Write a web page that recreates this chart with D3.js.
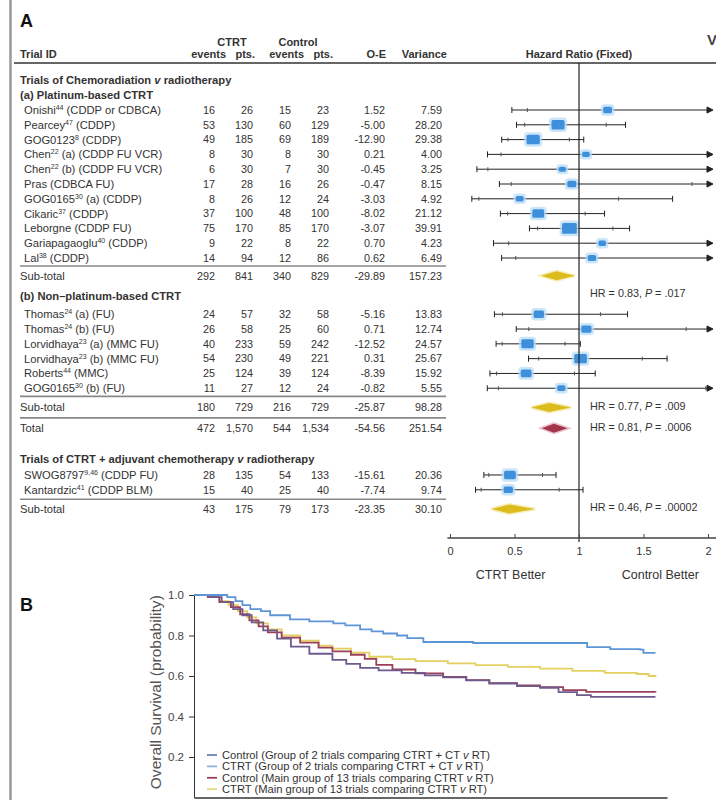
<!DOCTYPE html>
<html>
<head>
<meta charset="utf-8">
<script src="https://cdn.jsdelivr.net/npm/d3@7"></script>
<style>
  body { margin: 0; background: #fff; }
  svg { display: block; font-family: "Liberation Sans", Arial, sans-serif; }
</style>
</head>
<body>
<svg id="chart" width="716" height="800"></svg>
<script>
// ---- panel A data ----
var platinumNames = ['Onishi', 'Pearcey', 'GOG0123', 'Chen', 'Chen', 'Pras', 'GOG0165', 'Cikaric', 'Leborgne', 'Gariapagaoglu', 'Lal'];
var platinumRefs = ['44', '47', '8', '22', '22', '', '30', '37', '', '40', '38'];
var platinumRegimens = [' (CDDP or CDBCA)', ' (CDDP)', ' (CDDP)', ' (a) (CDDP FU VCR)', ' (b) (CDDP FU VCR)', ' (CDBCA FU)', ' (a) (CDDP)', ' (CDDP)', ' (CDDP FU)', ' (CDDP)', ' (CDDP)'];
var platinumCtrtEvents = [16, 53, 49, 8, 6, 17, 8, 37, 75, 9, 14];
var platinumCtrtPts = [26, 130, 185, 30, 30, 28, 26, 100, 170, 22, 94];
var platinumCtrlEvents = [15, 60, 69, 8, 7, 16, 12, 48, 85, 8, 12];
var platinumCtrlPts = [23, 129, 189, 30, 30, 26, 24, 100, 170, 22, 86];
var platinumOE = [1.52, -5.00, -12.90, 0.21, -0.45, -0.47, -3.03, -8.02, -3.07, 0.70, 0.62];
var platinumVar = [7.59, 28.20, 29.38, 4.00, 3.25, 8.15, 4.92, 21.12, 39.91, 4.23, 6.49];

var nonPlatNames = ['Thomas', 'Thomas', 'Lorvidhaya', 'Lorvidhaya', 'Roberts', 'GOG0165'];
var nonPlatRefs = ['24', '24', '23', '23', '44', '30'];
var nonPlatRegimens = [' (a) (FU)', ' (b) (FU)', ' (a) (MMC FU)', ' (b) (MMC FU)', ' (MMC)', ' (b) (FU)'];
var nonPlatCtrtEvents = [24, 26, 40, 54, 25, 11];
var nonPlatCtrtPts = [57, 58, 233, 230, 124, 27];
var nonPlatCtrlEvents = [32, 25, 59, 49, 39, 12];
var nonPlatCtrlPts = [58, 60, 242, 221, 124, 24];
var nonPlatOE = [-5.16, 0.71, -12.52, 0.31, -8.39, -0.82];
var nonPlatVar = [13.83, 12.74, 24.57, 25.67, 15.92, 5.55];

var adjNames = ['SWOG8797', 'Kantardzic'];
var adjRefs = ['9,46', '41'];
var adjRegimens = [' (CDDP FU)', ' (CDDP BLM)'];
var adjCtrtEvents = [28, 15];
var adjCtrtPts = [135, 40];
var adjCtrlEvents = [54, 25];
var adjCtrlPts = [133, 40];
var adjOE = [-15.61, -7.74];
var adjVar = [20.36, 9.74];

// sub-totals: ctrt events, ctrt pts, control events, control pts, O-E, variance
var subtotalPlatinum = [292, 841, 340, 829, -29.89, 157.23];
var subtotalNonPlat = [180, 729, 216, 729, -25.87, 98.28];
var totalChemorad = [472, 1570, 544, 1534, -54.56, 251.54];
var subtotalAdj = [43, 175, 79, 173, -23.35, 30.10];
var hrLabels = ['HR = 0.83, ', 'HR = 0.77, ', 'HR = 0.81, ', 'HR = 0.46, '];
var pLabels = [' = .017', ' = .009', ' = .0006', ' = .00002'];
var hrTicks = [0, 0.5, 1, 1.5, 2];

// ---- panel B data ----
var ctrtGrp2Time = [0, 0.72, 0.9, 1.05, 1.22, 1.45, 1.65, 2.08, 2.5, 3.02, 3.28, 3.6, 3.85, 4.1, 4.4, 4.62, 4.97, 6.05, 8.44, 8.52, 9.02, 9.67, 9.74, 10];
var ctrtGrp2Surv = [1, 0.99, 0.97, 0.95, 0.93, 0.92, 0.9, 0.88, 0.87, 0.86, 0.85, 0.83, 0.82, 0.81, 0.8, 0.787, 0.768, 0.763, 0.763, 0.743, 0.733, 0.73, 0.714, 0.714];
var ctrlGrp2Time = [0, 0.35, 0.6, 0.85, 1.05, 1.25, 1.5, 1.8, 2.1, 2.5, 3.0, 3.3, 3.6, 4.0, 4.5, 5.0, 5.4, 5.9, 6.4, 7.0, 7.5, 7.9, 8.3, 8.6, 10];
var ctrlGrp2Surv = [1, 0.99, 0.965, 0.93, 0.9, 0.865, 0.825, 0.785, 0.745, 0.71, 0.68, 0.66, 0.64, 0.628, 0.615, 0.603, 0.593, 0.578, 0.563, 0.55, 0.542, 0.52, 0.506, 0.497, 0.497];
var ctrlMainTime = [0, 0.3, 0.55, 0.8, 1.0, 1.2, 1.4, 1.6, 1.9, 2.3, 2.7, 3.0, 3.4, 3.7, 3.95, 4.3, 4.8, 5.4, 5.9, 6.4, 7.0, 7.5, 8.0, 8.5, 10];
var ctrlMainSurv = [1, 0.99, 0.965, 0.94, 0.905, 0.875, 0.845, 0.815, 0.79, 0.765, 0.74, 0.722, 0.705, 0.685, 0.655, 0.632, 0.613, 0.595, 0.58, 0.565, 0.553, 0.545, 0.53, 0.522, 0.52];
var ctrtMainTime = [0, 0.3, 0.55, 0.75, 0.95, 1.15, 1.35, 1.6, 1.9, 2.3, 2.7, 3.0, 3.4, 3.8, 4.3, 4.8, 5.5, 6.1, 6.8, 7.5, 8.2, 8.9, 9.6, 9.85, 10];
var ctrtMainSurv = [1, 0.99, 0.97, 0.95, 0.92, 0.89, 0.86, 0.83, 0.8, 0.775, 0.75, 0.735, 0.715, 0.695, 0.683, 0.673, 0.662, 0.654, 0.645, 0.636, 0.625, 0.615, 0.61, 0.6, 0.595];
var legendLabels = [
  ['Control (Group of 2 trials comparing CTRT + CT ', ' RT)'],
  ['CTRT (Group of 2 trials comparing CTRT + CT ', ' RT)'],
  ['Control (Main group of 13 trials comparing CTRT ', ' RT)'],
  ['CTRT  (Main group of 13 trials comparing CTRT ', ' RT)']
];
var survTicks = [0.2, 0.4, 0.6, 0.8, 1.0];

// ---- helpers ----
function makeTrials(names, refs, regs, ce, cp, xe, xp, oe, v) {
  return names.map(function (n, i) {
    return { name: n, ref: refs[i], reg: regs[i], vals: [ce[i], cp[i], xe[i], xp[i], oe[i], v[i]] };
  });
}
var platinum = makeTrials(platinumNames, platinumRefs, platinumRegimens, platinumCtrtEvents, platinumCtrtPts, platinumCtrlEvents, platinumCtrlPts, platinumOE, platinumVar);
var nonPlat = makeTrials(nonPlatNames, nonPlatRefs, nonPlatRegimens, nonPlatCtrtEvents, nonPlatCtrtPts, nonPlatCtrlEvents, nonPlatCtrlPts, nonPlatOE, nonPlatVar);
var adjuvant = makeTrials(adjNames, adjRefs, adjRegimens, adjCtrtEvents, adjCtrtPts, adjCtrlEvents, adjCtrlPts, adjOE, adjVar);

var svg = d3.select('#chart');
var textCol = '#333';

// left frame line
svg.append('line').attr('x1', 10.5).attr('x2', 10.5).attr('y1', 0).attr('y2', 800)
  .attr('stroke', '#999').attr('stroke-width', 2.5);

// ============ PANEL A ============
var rowY = d3.scaleLinear().domain([0, 1]).range([110, 124.8]);
var hr = d3.scaleLinear().domain([0, 2]).range([450, 708]);
var colX = [215, 253, 291, 329, 385, 442];
var fmtInt = d3.format(',');

svg.append('text').attr('x', 20).attr('y', 27).attr('font-size', 18).attr('font-weight', 'bold')
  .attr('fill', '#111').text('A');
svg.append('text').attr('x', 707).attr('y', 45).attr('font-size', 15).attr('font-weight', 'bold')
  .attr('fill', '#444').text('V');

// header
var head = svg.append('g').attr('font-size', 11).attr('font-weight', 'bold').attr('fill', textCol);
head.append('text').attr('x', 232).attr('y', 46).attr('text-anchor', 'middle').text('CTRT');
head.append('text').attr('x', 298).attr('y', 46).attr('text-anchor', 'middle').text('Control');
head.append('text').attr('x', 20).attr('y', 58).text('Trial ID');
[['events', 226], ['pts.', 255], ['events', 304], ['pts.', 333], ['O-E', 386], ['Variance', 447]].forEach(function (h) {
  head.append('text').attr('x', h[1]).attr('y', 58).attr('text-anchor', 'end').text(h[0]);
});
head.append('text').attr('x', 579).attr('y', 58).attr('text-anchor', 'middle').text('Hazard Ratio (Fixed)');
svg.append('line').attr('x1', 14).attr('x2', 716).attr('y1', 63).attr('y2', 63)
  .attr('stroke', '#333').attr('stroke-width', 1.3);

var rows = svg.append('g').attr('fill', textCol);
var marks = svg.append('g');

function sectionTitle(y, before, after) {
  var t = rows.append('text').attr('x', 20).attr('y', y).attr('dy', '0.35em')
    .attr('font-size', 11.2).attr('font-weight', 'bold');
  t.append('tspan').text(before);
  if (after !== undefined) {
    t.append('tspan').attr('font-style', 'italic').text(' v ');
    t.append('tspan').text(after);
  }
}

function numbers(y, vals) {
  vals.forEach(function (v, i) {
    var s = i < 4 ? fmtInt(v) : v.toFixed(2);
    rows.append('text').attr('x', colX[i]).attr('y', y).attr('dy', '0.35em')
      .attr('text-anchor', 'end').attr('font-size', 10.8).text(s);
  });
}

function separator(y) {
  rows.append('line').attr('x1', 20).attr('x2', 446).attr('y1', y).attr('y2', y)
    .attr('stroke', '#888').attr('stroke-width', 1.6);
}

function trialRow(t, y) {
  var txt = rows.append('text').attr('x', 24).attr('y', y).attr('dy', '0.35em').attr('font-size', 11.2);
  txt.append('tspan').text(t.name);
  if (t.ref) {
    txt.append('tspan').attr('font-size', 7).attr('dy', -4).text(t.ref);
    txt.append('tspan').attr('dy', 4).text(t.reg);
  } else {
    txt.append('tspan').text(t.reg);
  }
  numbers(y, t.vals);

  var oe = t.vals[4], v = t.vals[5];
  var lnhr = oe / v, se = 1 / Math.sqrt(v);
  var lo99 = Math.exp(lnhr - 2.576 * se), hi99 = Math.exp(lnhr + 2.576 * se);
  var lo95 = Math.exp(lnhr - 1.96 * se), hi95 = Math.exp(lnhr + 1.96 * se);
  var x1 = hr(Math.max(lo99, 0)), x2 = hr(Math.min(hi99, 2)) + (hi99 > 2 ? 2 : 0);
  var g = marks.append('g').attr('stroke', '#222').attr('stroke-width', 1);
  g.append('line').attr('x1', x1).attr('x2', x2).attr('y1', y).attr('y2', y);
  g.append('line').attr('x1', x1).attr('x2', x1).attr('y1', y - 3).attr('y2', y + 3);
  if (hi99 > 2) {
    g.append('path').attr('d', 'M' + (x2 + 3) + ',' + y + 'L' + (x2 - 3) + ',' + (y - 3) + 'L' + (x2 - 3) + ',' + (y + 3) + 'Z')
      .attr('fill', '#222');
  } else {
    g.append('line').attr('x1', x2).attr('x2', x2).attr('y1', y - 3).attr('y2', y + 3);
  }
  [lo95, hi95].forEach(function (c) {
    if (c < 2) g.append('line').attr('x1', hr(c)).attr('x2', hr(c)).attr('y1', y - 2).attr('y2', y + 2).attr('stroke', '#555');
  });
  var w = 4 + 1.7 * Math.sqrt(v), h = w * 0.72;
  var cx = hr(Math.exp(lnhr));
  marks.append('rect').attr('x', cx - w / 2 - 2.5).attr('y', y - h / 2 - 2.5).attr('width', w + 5).attr('height', h + 5)
    .attr('rx', 3.5).attr('fill', '#b9dcf7').attr('opacity', 0.75);
  marks.append('rect').attr('x', cx - w / 2).attr('y', y - h / 2).attr('width', w).attr('height', h)
    .attr('rx', 1.5).attr('fill', '#3f90dc');
}

function diamond(vals, y, color, glow) {
  var oe = vals[4], v = vals[5];
  var lnhr = oe / v, se = 1 / Math.sqrt(v);
  var c = hr(Math.exp(lnhr)), l = hr(Math.exp(lnhr - 1.96 * se)), r = hr(Math.exp(lnhr + 1.96 * se));
  var d = 'M' + l + ',' + y + 'L' + c + ',' + (y - 4.5) + 'L' + r + ',' + y + 'L' + c + ',' + (y + 4.5) + 'Z';
  marks.append('path').attr('d', d).attr('fill', glow).attr('stroke', glow).attr('stroke-width', 3).attr('opacity', 0.6);
  marks.append('path').attr('d', d).attr('fill', color);
}

function hrText(i, y) {
  var t = rows.append('text').attr('x', 590).attr('y', y).attr('dy', '0.35em').attr('font-size', 10.8);
  t.append('tspan').text(hrLabels[i]);
  t.append('tspan').attr('font-style', 'italic').text('P');
  t.append('tspan').text(pLabels[i]);
}

function subRow(label, vals, y) {
  rows.append('text').attr('x', 20).attr('y', y).attr('dy', '0.35em').attr('font-size', 11.2).text(label);
  numbers(y, vals);
}

// layout walk (row units)
var s = -2.05;
sectionTitle(rowY(s), 'Trials of Chemoradiation', 'radiotherapy');
s += 1.05;
sectionTitle(rowY(s), '(a) Platinum-based CTRT');
s += 1;
platinum.forEach(function (t, i) { trialRow(t, rowY(s)); if (i < platinum.length - 1) s += 1; });
s += 1.2;
separator(rowY(s - 0.66));
subRow('Sub-total', subtotalPlatinum, rowY(s));
diamond(subtotalPlatinum, rowY(s), '#dcbc1c', '#f3e08a');
hrText(0, rowY(s + 1.15));
s += 1.4;
sectionTitle(rowY(s), '(b) Non\u2013platinum-based CTRT');
s += 1.2;
nonPlat.forEach(function (t, i) { trialRow(t, rowY(s)); if (i < nonPlat.length - 1) s += 1; });
s += 1.3;
separator(rowY(s - 0.75));
subRow('Sub-total', subtotalNonPlat, rowY(s));
diamond(subtotalNonPlat, rowY(s), '#dcbc1c', '#f3e08a');
hrText(1, rowY(s - 0.1));
s += 1.4;
separator(rowY(s - 0.7));
subRow('Total', totalChemorad, rowY(s));
diamond(totalChemorad, rowY(s), '#a3354d', '#dfa0b0');
hrText(2, rowY(s - 0.1));
s += 2.1;
sectionTitle(rowY(s), 'Trials of CTRT + adjuvant chemotherapy', 'radiotherapy');
s += 1.06;
adjuvant.forEach(function (t, i) { trialRow(t, rowY(s)); if (i < adjuvant.length - 1) s += 1; });
s += 1.3;
separator(rowY(s - 0.66));
subRow('Sub-total', subtotalAdj, rowY(s));
diamond(subtotalAdj, rowY(s), '#dcbc1c', '#f3e08a');
hrText(3, rowY(s - 0.1));

// reference line and axis
var axisY = 538;
svg.append('line').attr('x1', hr(1)).attr('x2', hr(1)).attr('y1', 63).attr('y2', axisY + 4)
  .attr('stroke', '#222').attr('stroke-width', 1.2);
svg.append('line').attr('x1', hr(-0.02)).attr('x2', 716).attr('y1', axisY).attr('y2', axisY)
  .attr('stroke', '#444').attr('stroke-width', 1.3);
var ax = svg.append('g').attr('transform', 'translate(0,' + axisY + ')')
  .call(d3.axisBottom(hr).tickValues(hrTicks).tickFormat(d3.format('~g')).tickSize(-4).tickPadding(9));
ax.select('.domain').remove();
ax.selectAll('text').attr('font-size', 11).attr('fill', textCol).attr('font-family', null);
ax.selectAll('line').attr('stroke', '#444');
svg.append('text').attr('x', hr(0.47)).attr('y', 579).attr('text-anchor', 'middle')
  .attr('font-size', 12.5).attr('fill', textCol).text('CTRT Better');
svg.append('text').attr('x', hr(1.63)).attr('y', 579).attr('text-anchor', 'middle')
  .attr('font-size', 12.5).attr('fill', textCol).text('Control Better');

// ============ PANEL B ============
svg.append('text').attr('x', 20).attr('y', 611).attr('font-size', 18).attr('font-weight', 'bold')
  .attr('fill', '#111').text('B');

var tx = d3.scaleLinear().domain([0, 10.25]).range([194, 667]);
var sy = d3.scaleLinear().domain([0, 1]).range([797.5, 595]);

var yAx = svg.append('g').attr('transform', 'translate(194,0)')
  .call(d3.axisLeft(sy).tickValues(survTicks).tickFormat(d3.format('.1f')).tickSize(5).tickSizeOuter(0).tickPadding(5));
yAx.selectAll('text').attr('font-size', 11.5).attr('fill', '#444').attr('font-family', null);
yAx.selectAll('line, path').attr('stroke', '#333');
var xAx = svg.append('g').attr('transform', 'translate(0,' + sy(0) + ')')
  .call(d3.axisBottom(tx).tickValues([]).tickSizeOuter(0));
xAx.select('.domain').attr('stroke', '#333').attr('stroke-width', 1.5);

svg.append('text').attr('transform', 'translate(161,' + sy(0.52) + ') rotate(-90)')
  .attr('text-anchor', 'middle').attr('font-size', 15).attr('fill', '#555')
  .attr('textLength', 194).attr('lengthAdjust', 'spacingAndGlyphs')
  .text('Overall Survival (probability)');

var curves = [
  { t: ctrtMainTime, s: ctrtMainSurv, color: '#e3d060' },
  { t: ctrlMainTime, s: ctrlMainSurv, color: '#9c3f58' },
  { t: ctrlGrp2Time, s: ctrlGrp2Surv, color: '#6e5a8c' },
  { t: ctrtGrp2Time, s: ctrtGrp2Surv, color: '#5d95d6' }
];
var line = d3.line().curve(d3.curveStepAfter)
  .x(function (d) { return tx(d[0]); })
  .y(function (d) { return sy(d[1]); });
curves.forEach(function (c) {
  var pts = d3.zip(c.t, c.s);
  svg.append('path').attr('d', line(pts)).attr('fill', 'none')
    .attr('stroke', c.color).attr('stroke-width', 1.8);
});

var legendColors = ['#6e7fb8', '#8fb4dc', '#9c3f58', '#e8d680'];
legendLabels.forEach(function (lab, i) {
  var y = 755 + i * 11.4;
  svg.append('line').attr('x1', 207).attr('x2', 217).attr('y1', y).attr('y2', y)
    .attr('stroke', legendColors[i]).attr('stroke-width', 1.8);
  var t = svg.append('text').attr('x', 222).attr('y', y).attr('dy', '0.35em')
    .attr('font-size', 11.2).attr('fill', textCol);
  t.append('tspan').text(lab[0]);
  t.append('tspan').attr('font-style', 'italic').text('v');
  t.append('tspan').text(lab[1]);
});
</script>
</body>
</html>
